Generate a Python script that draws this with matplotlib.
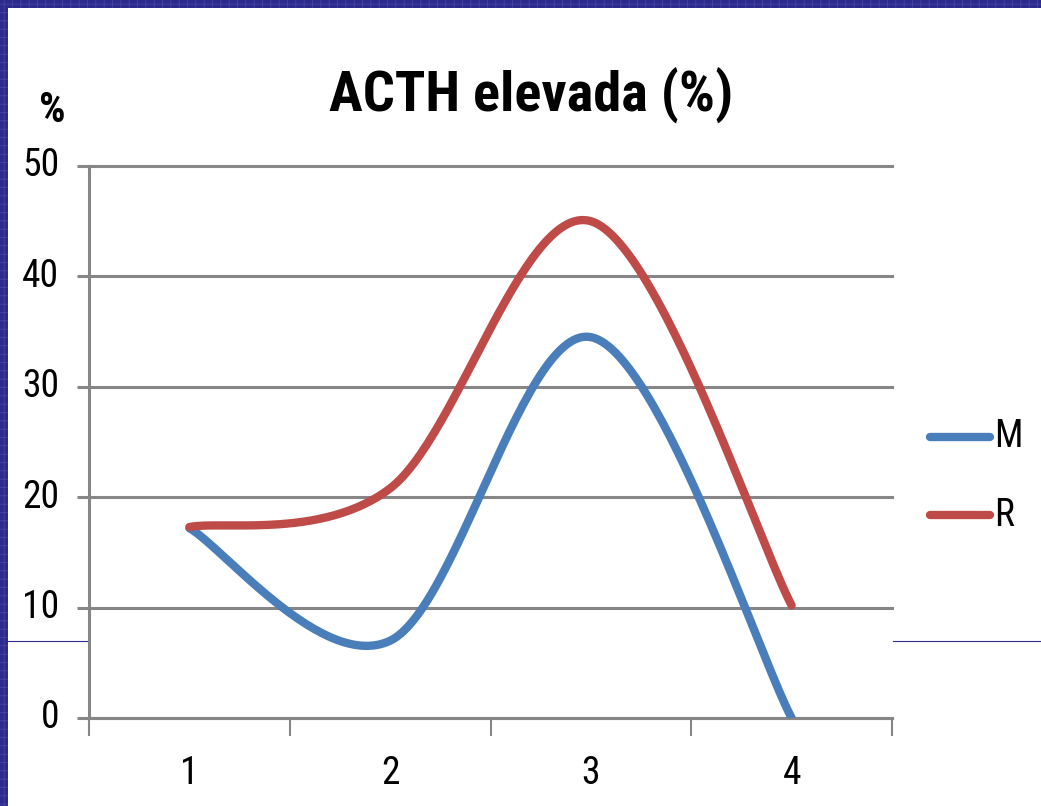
import matplotlib
matplotlib.use("Agg")
import os
import matplotlib.pyplot as plt
from matplotlib import font_manager as fm
from matplotlib.patches import Rectangle
from matplotlib.lines import Line2D
import numpy as np

plt.rcParams['font.family'] = ['Liberation Sans', 'DejaVu Sans']

categories = [1, 2, 3, 4]
series_m = [17.2, 7.0, 34.5, 0.0]
series_r = [17.3, 20.8, 45.0, 10.2]
y_ticks = [0, 10, 20, 30, 40, 50]

GRAY = '#868686'
BLUE = '#4A7EBB'
RED = '#BE4B48'
NAVY = '#2D2A8E'


def find_narrow(bold):
    # look for a condensed face among installed fonts (Calibri-like look)
    prefs = ['NotoSans-SemiCondensed', 'NotoSans-Condensed', 'RobotoCondensed',
             'Roboto_Condensed', 'OpenSans_SemiCondensed', 'OpenSans-SemiCondensed',
             'OpenSans_Condensed', 'DejaVuSansCondensed', 'LiberationSansNarrow']
    files = [f.fname for f in fm.fontManager.ttflist]
    for p in prefs:
        for fn in files:
            base = os.path.basename(fn)
            if not base.startswith(p):
                continue
            rest = base[len(p):].lower()
            if 'italic' in rest or 'oblique' in rest:
                continue
            if bold and ('-bold.' in rest or rest in ('-bold.ttf', '-bold.otf')):
                return fm.FontProperties(fname=fn)
            if not bold and (rest.startswith('.') or '-regular.' in rest or rest.startswith('-regular')):
                return fm.FontProperties(fname=fn)
    return None


reg_fp = find_narrow(False)
bold_fp = find_narrow(True)


def tprops(fp, size, bold=False):
    if fp is not None:
        p = fp.copy()
        p.set_size(size)
        return {'fontproperties': p}
    return {'fontsize': size, 'fontweight': 'bold' if bold else 'normal'}


def smooth(xs, ys, n=60):
    # Excel-style smoothed line (Catmull-Rom as cubic Bezier)
    xs = np.asarray(xs, float)
    ys = np.asarray(ys, float)
    px = np.concatenate([[xs[0]], xs, [xs[-1]]])
    py = np.concatenate([[ys[0]], ys, [ys[-1]]])
    out_x, out_y = [], []
    t = np.linspace(0, 1, n)
    for i in range(1, len(px) - 2):
        p0 = np.array([px[i], py[i]])
        p3 = np.array([px[i + 1], py[i + 1]])
        c1 = p0 + (np.array([px[i + 1], py[i + 1]]) - np.array([px[i - 1], py[i - 1]])) / 6
        c2 = p3 - (np.array([px[i + 2], py[i + 2]]) - np.array([px[i], py[i]])) / 6
        b = ((1 - t) ** 3)[:, None] * p0 + (3 * (1 - t) ** 2 * t)[:, None] * c1 \
            + (3 * (1 - t) * t ** 2)[:, None] * c2 + (t ** 3)[:, None] * p3
        out_x.extend(b[:, 0])
        out_y.extend(b[:, 1])
    return out_x, out_y


fig = plt.figure(figsize=(10.41, 8.06), dpi=100)
W, H = 1041, 806

# slide border (textured navy band)
plt.rcParams['hatch.linewidth'] = 0.5
for rect in [(0, 1 - 8 / H, 1, 8 / H), (0, 0, 8 / W, 1)]:
    fig.patches.append(Rectangle(rect[:2], rect[2], rect[3], transform=fig.transFigure,
                                 facecolor=NAVY, edgecolor='#4B47A6', hatch='++',
                                 lw=0, zorder=0))
yl = 1 - 641 / H
fig.add_artist(Line2D([8 / W, 87 / W], [yl, yl], transform=fig.transFigure, color=NAVY, lw=0.8))
fig.add_artist(Line2D([893 / W, 1], [yl, yl], transform=fig.transFigure, color=NAVY, lw=0.8))

ax = fig.add_axes([89 / W, 1 - 718 / H, (892 - 89) / W, (718 - 166) / H])
ax.set_xlim(0.5, 4.5)
ax.set_ylim(0, 50)

for v in y_ticks:
    ax.axhline(v, color=GRAY, lw=2.2, zorder=1, clip_on=False)

mx, my = smooth(categories, series_m)
rx, ry = smooth(categories, series_r)
ax.plot(mx, my, color=BLUE, lw=6.0, solid_capstyle='round', zorder=3, label='M')
ax.plot(rx, ry, color=RED, lw=6.0, solid_capstyle='round', zorder=3, label='R')

for s in ['top', 'right']:
    ax.spines[s].set_visible(False)
ax.spines['left'].set_color(GRAY)
ax.spines['left'].set_linewidth(2.2)
ax.spines['bottom'].set_color(GRAY)
ax.spines['bottom'].set_linewidth(2.2)

ax.set_yticks(y_ticks)
ax.set_yticklabels([])
ax.tick_params(axis='y', length=9, width=2.2, color=GRAY)
for v in y_ticks:
    ax.text(-30 / 803, v, str(v), transform=ax.get_yaxis_transform(),
            ha='right', va='center', **tprops(reg_fp, 27))
ax.set_xticks([0.5, 1.5, 2.5, 3.5, 4.5])
ax.set_xticklabels([])
ax.tick_params(axis='x', length=13, width=1.5, color=GRAY)
for c in categories:
    ax.text(c, -5.0, str(c), ha='center', va='center', **tprops(reg_fp, 27))

title = fig.text(531 / W, 1 - 96 / H, 'ACTH elevada (%)', ha='center', va='center',
                 **tprops(bold_fp, 52, True))
# fit title width to the reference (about 405 px)
fig.canvas.draw()
bb = title.get_window_extent()
if bb.width > 0:
    title.set_fontsize(52 * 405 / bb.width)

fig.text(52 / W, 1 - 111 / H, '%', ha='center', va='center', **tprops(bold_fp, 30, True))

# legend
for yy, col, lab in [(437, BLUE, 'M'), (515, RED, 'R')]:
    yf = 1 - yy / H
    fig.add_artist(Line2D([930 / W, 990 / W], [yf, yf], transform=fig.transFigure,
                          color=col, lw=6.0, solid_capstyle='round'))
    fig.text(994 / W, yf, lab, ha='left', va='center', **tprops(reg_fp, 27))

fig.savefig('out.png', dpi=100)
